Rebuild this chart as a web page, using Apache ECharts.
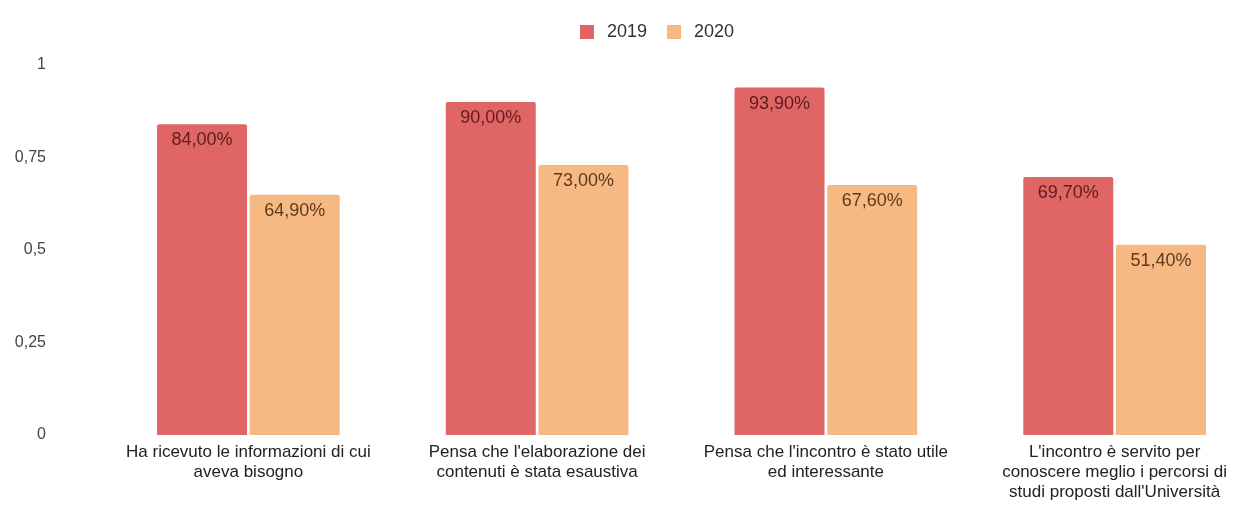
<!DOCTYPE html>
<html>
<head>
<meta charset="utf-8">
<script src="https://cdn.jsdelivr.net/npm/echarts@6/dist/echarts.min.js"></script>
<style>html,body{margin:0;padding:0;background:#fff;overflow:hidden;}#c{width:1262px;height:505px;}</style>
</head>
<body>
<div id="c"></div>
<script>
var categories = [
  "Ha ricevuto le informazioni di cui\naveva bisogno",
  "Pensa che l'elaborazione dei\ncontenuti è stata esaustiva",
  "Pensa che l'incontro è stato utile\ned interessante",
  "L'incontro è servito per\nconoscere meglio i percorsi di\nstudi proposti dall'Università"
];
var seriesNames = ["2019", "2020"];
var values2019 = [0.84, 0.90, 0.939, 0.697];
var values2020 = [0.649, 0.73, 0.676, 0.514];

var FONT = "'Liberation Sans', Arial, sans-serif";
function pct(p) { return (p.value * 100).toFixed(2).replace('.', ',') + '%'; }

var chart = echarts.init(document.getElementById('c'), null, {renderer: 'canvas'});
chart.setOption({
  animation: false,
  backgroundColor: '#ffffff',
  textStyle: {fontFamily: FONT},
  legend: {
    data: seriesNames,
    left: 575,
    top: 18,
    itemWidth: 14,
    itemHeight: 14,
    itemGap: 20,
    icon: 'rect',
    textStyle: {fontSize: 18, color: '#333', fontFamily: FONT, padding: [0, 0, 0, 8]}
  },
  grid: {left: 104, top: 65, right: 3, height: 370, containLabel: false},
  xAxis: {
    type: 'category',
    data: categories,
    axisLine: {show: false},
    axisTick: {show: false},
    axisLabel: {fontSize: 17, color: '#222', lineHeight: 20, margin: 7, interval: 0, fontFamily: FONT}
  },
  yAxis: {
    type: 'value',
    min: 0, max: 1, interval: 0.25,
    axisLine: {show: false},
    axisTick: {show: false},
    splitLine: {show: false},
    axisLabel: {fontSize: 16, color: '#444', margin: 58, fontFamily: FONT,
      formatter: function (v) { return String(v).replace('.', ','); }}
  },
  series: [
    {
      name: seriesNames[0], type: 'bar', data: values2019,
      barWidth: 90, barGap: '3%',
      itemStyle: {color: '#e06565', borderRadius: [2, 2, 0, 0]},
      label: {show: true, position: 'insideTop', distance: 7, fontSize: 18, color: '#5e1c1c', fontFamily: FONT, formatter: pct}
    },
    {
      name: seriesNames[1], type: 'bar', data: values2020,
      barWidth: 90, barGap: '3%',
      itemStyle: {color: '#f6b983', borderRadius: [2, 2, 0, 0]},
      label: {show: true, position: 'insideTop', distance: 7, fontSize: 18, color: '#5e3a1a', fontFamily: FONT, formatter: pct}
    }
  ]
});
</script>
</body>
</html>
